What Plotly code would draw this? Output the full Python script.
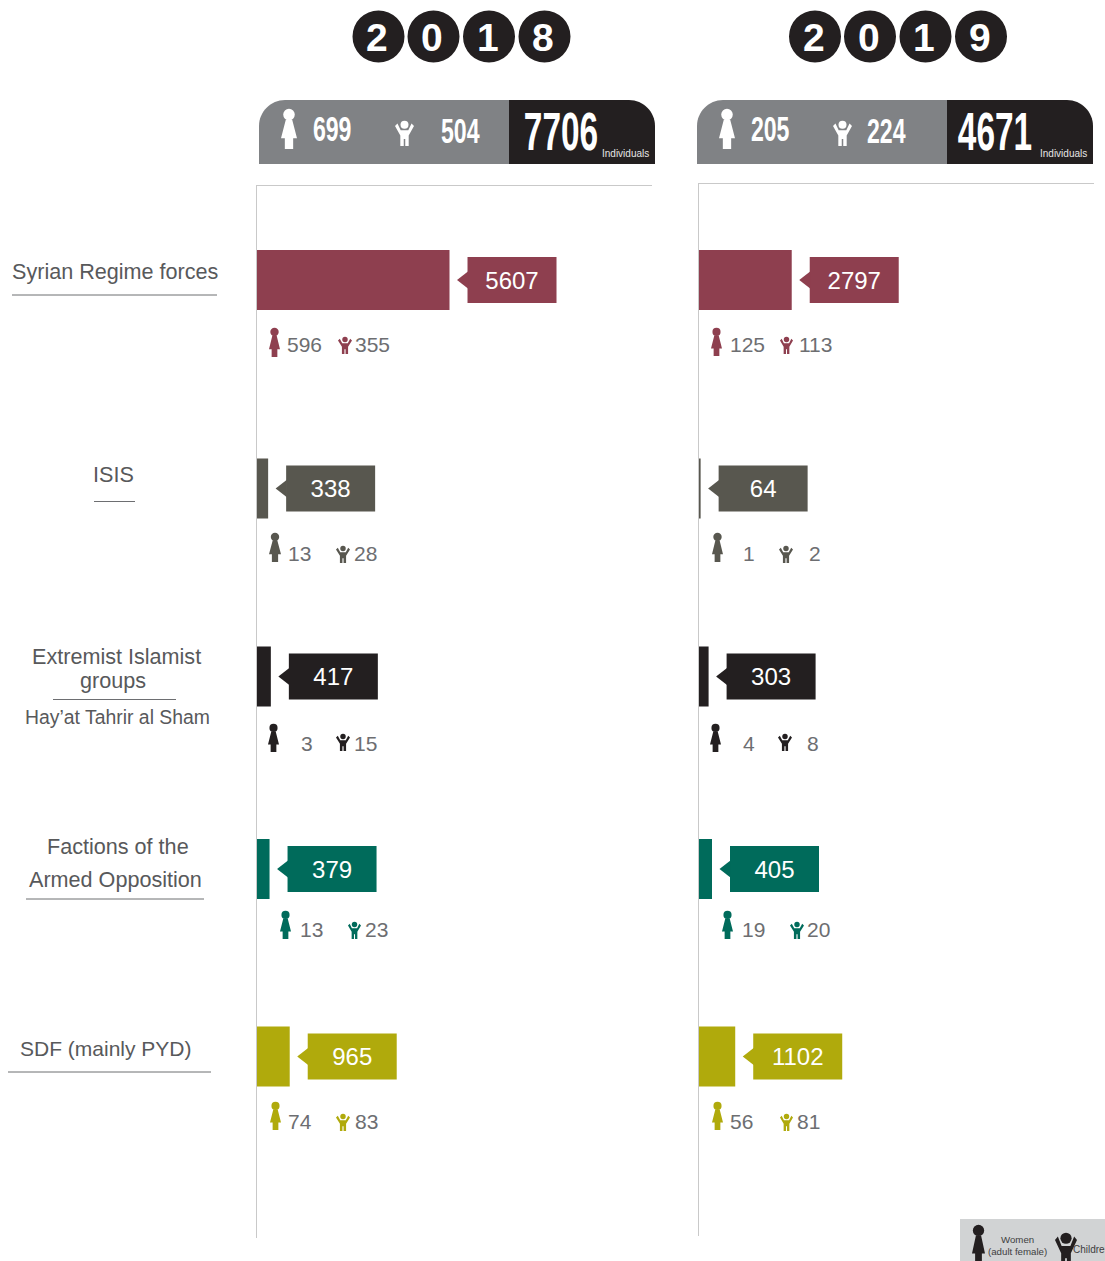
import plotly.graph_objects as go

# ---------- data ----------
years = ["2018", "2019"]
groups = ["Syrian Regime forces", "ISIS", "Extremist Islamist groups", "Factions of the Armed Opposition", "SDF (mainly PYD)"]
deaths_2018 = [5607, 338, 417, 379, 965]
deaths_2019 = [2797, 64, 303, 405, 1102]
women_2018 = [596, 13, 3, 13, 74]
women_2019 = [125, 1, 4, 19, 56]
children_2018 = [355, 28, 15, 23, 83]
children_2019 = [113, 2, 8, 20, 81]
total_2018 = 7706
total_2019 = 4671
total_women_2018 = 699
total_women_2019 = 205
total_children_2018 = 504
total_children_2019 = 224

# ---------- styling / layout constants (pixels) ----------
W, H = 1105, 1261
colors = ["#8e3f4f", "#58574f", "#231f20", "#006b5b", "#b0aa0c"]
GREY = "#6d6e71"
LBL = "#58595b"
BLACK = "#231f20"
HDR = "#808285"
FONT = "Liberation Sans, Arial, sans-serif"
ROW_Y = [280, 488.5, 676.5, 869, 1056.5]
L_X0, L_X1, L_Y0, L_Y1 = 256.5, 652, 186, 1238
R_X0, R_X1, R_Y0, R_Y1 = 698.5, 1094, 184, 1236
L_SCALE, R_SCALE = 29.05, 30.0   # axis units per pixel
GAP_PX, CALL_W_PX = 18, 89

shapes, ann = [], []
def fx(x): return x / W
def fy(y): return 1 - y / H

def text(x, y, s, size, color=GREY, anchor="left", font=FONT):
    ann.append(dict(x=fx(x), y=fy(y), xref="paper", yref="paper", text=s, showarrow=False,
                    xanchor=anchor, yanchor="middle", align="center",
                    font=dict(size=size, color=color, family=font), borderpad=0, borderwidth=0))

def rect(x0, y0, x1, y1, color):
    shapes.append(dict(type="rect", xref="paper", yref="paper", x0=fx(x0), x1=fx(x1),
                       y0=fy(y0), y1=fy(y1), fillcolor=color, line=dict(width=0), layer="below"))

def line(x0, y, x1, color="#6d6e71", w=1):
    shapes.append(dict(type="line", xref="paper", yref="paper", x0=fx(x0), x1=fx(x1),
                       y0=fy(y), y1=fy(y), line=dict(color=color, width=w)))

def poly(points, color):
    d = "M" + "L".join(f"{fx(x):.5f},{fy(y):.5f}" for x, y in points) + "Z"
    shapes.append(dict(type="path", xref="paper", yref="paper", path=d, fillcolor=color, line=dict(width=0)))

def circle(cx, cy, r, color):
    shapes.append(dict(type="circle", xref="paper", yref="paper", x0=fx(cx - r), x1=fx(cx + r),
                       y0=fy(cy - r), y1=fy(cy + r), fillcolor=color, line=dict(width=0)))

WOMAN = [(.30, .27), (.70, .27), (1, .73), (.76, .73), (.76, 1), (.24, 1), (.24, .73), (0, .73)]
CHILD = [(.30, .37), (.70, .37), (.87, .10), (1, .20), (.72, .58), (.72, 1), (.54, 1), (.54, .72),
         (.46, .72), (.46, 1), (.28, 1), (.28, .58), (0, .20), (.13, .10)]

def icon(shape, x0, y0, x1, y1, color, head, hy):
    w, h = x1 - x0, y1 - y0
    poly([(x0 + a * w, y0 + b * h) for a, b in shape], color)
    circle(x0 + w / 2, y0 + hy * h, head * h, color)

def woman(x0, y0, x1, y1, color): icon(WOMAN, x0, y0, x1, y1, color, .145, .14)
def child(x0, y0, x1, y1, color): icon(CHILD, x0, y0, x1, y1, color, .16, .15)

# year badges
for yr, xs in zip(years, ([378.5, 433.5, 489, 544.5], [815, 870, 925.5, 981])):
    for d, cx in zip(yr, xs):
        circle(cx, 36.5, 26, BLACK)
        text(cx - 1.5, 37, f"<b>{d}</b>", 39, "white", "center")

# header strips
def header(x0, xm, x1):
    r, t, b = 26, 100, 164
    k = 0.55 * r
    d = (f"M{fx(x0)},{fy(b)}L{fx(x0)},{fy(t + r)}C{fx(x0)},{fy(t + r - k)} {fx(x0 + r - k)},{fy(t)} {fx(x0 + r)},{fy(t)}"
         f"L{fx(xm)},{fy(t)}L{fx(xm)},{fy(b)}Z")
    shapes.append(dict(type="path", xref="paper", yref="paper", path=d, fillcolor=HDR, line=dict(width=0), layer="below"))
    d = (f"M{fx(xm)},{fy(b)}L{fx(xm)},{fy(t)}L{fx(x1 - r)},{fy(t)}C{fx(x1 - r + k)},{fy(t)} {fx(x1)},{fy(t + r - k)} {fx(x1)},{fy(t + r)}"
         f"L{fx(x1)},{fy(b)}Z")
    shapes.append(dict(type="path", xref="paper", yref="paper", path=d, fillcolor=BLACK, line=dict(width=0), layer="below"))

header(259, 509, 655)
header(697, 947, 1093)
woman(281, 109, 297, 149, "white")
child(395, 121, 414, 146, "white")
woman(719, 109, 735, 149, "white")
child(833, 121, 852, 146, "white")
text(332, 129, f"<b>{total_women_2018}</b>", 35, "white", "center")
text(460, 131, f"<b>{total_children_2018}</b>", 35, "white", "center")
text(561, 132, f"<b>{total_2018}</b>", 53, "white", "center")
text(770, 129, f"<b>{total_women_2019}</b>", 35, "white", "center")
text(886, 131, f"<b>{total_children_2019}</b>", 35, "white", "center")
text(995, 132, f"<b>{total_2019}</b>", 53, "white", "center")
text(602, 153, "Individuals", 10, "#e6e6e6")
text(1040, 153, "Individuals", 10, "#e6e6e6")

# row labels on the left
text(115, 271.5, "Syrian Regime forces", 21.6, LBL, "center"); line(12, 295, 217)
text(113, 474.5, "ISIS", 21.6, LBL, "center"); line(94, 501.5, 135)
text(116, 656, "Extremist Islamist", 21.6, LBL, "center")
text(113, 680, "groups", 21.6, LBL, "center"); line(53, 699.5, 176)
text(117, 717, "Hay\u2019at Tahrir al Sham", 19.4, LBL, "center")
text(118, 847, "Factions of the", 21.6, LBL, "center")
text(115, 879, "Armed Opposition", 21.6, LBL, "center"); line(26, 899, 204)
text(106, 1048.5, "SDF (mainly PYD)", 21, LBL, "center"); line(8, 1072, 211)

# women / children icons and counts
left_layout = [
    (269, 328, 280, 357, 287, 344.5, 338, 337, 352, 354, 355),
    (269, 533, 281, 562, 288, 553.5, 336, 546, 350, 563, 354),
    (268, 724, 279, 752, 301, 743.5, 336, 734, 350, 751, 354),
    (280, 911, 291, 939, 300, 929.5, 348, 922, 361, 939, 365),
    (270, 1102, 281, 1130, 288, 1121.5, 336, 1114, 350, 1131, 355),
]
right_layout = [
    (711, 328, 722, 356, 730, 344.5, 780, 337, 793, 354, 799),
    (712, 533, 723, 562, 743, 553.5, 779, 546, 793, 563, 809),
    (710, 724, 721, 752, 743, 743.5, 778, 734, 792, 751, 807),
    (722, 911, 733, 939, 742, 929.5, 790, 922, 804, 939, 807),
    (712, 1102, 723, 1130, 730, 1121.5, 780, 1114, 793, 1131, 797),
]
for lay, wv, cv in ((left_layout, women_2018, children_2018), (right_layout, women_2019, children_2019)):
    for (wx0, wy0, wx1, wy1, wtx, ty, cx0, cy0, cx1, cy1, ctx), col, a, b in zip(lay, colors, wv, cv):
        woman(wx0, wy0, wx1, wy1, col)
        child(cx0, cy0, cx1, cy1, col)
        text(wtx, ty, str(a), 21)
        text(ctx, ty, str(b), 21)

# legend box
rect(960, 1219, 1105, 1261, "#d1d3d4")
woman(972, 1225, 985, 1264, BLACK)
child(1055, 1233, 1077, 1268, BLACK)
text(1018, 1239.5, "Women", 9.7, "#404040", "center")
text(1018, 1251, "(adult female)", 9.7, "#404040", "center")
text(1073, 1249, "Children", 10, "#404040")

# ---------- traces ----------
fig = go.Figure()
def panel(vals, scale, xa, ya):
    gap, cw = GAP_PX * scale, CALL_W_PX * scale
    fig.add_trace(go.Bar(x=vals, y=ROW_Y, orientation="h", width=60, marker=dict(color=colors, line=dict(width=0)),
                         xaxis=xa, yaxis=ya, hovertext=groups, hoverinfo="text+x"))
    fig.add_trace(go.Bar(x=[cw] * 5, base=[v + gap for v in vals], y=ROW_Y, orientation="h", width=46,
                         marker=dict(color=colors, line=dict(width=0)), text=[str(v) for v in vals],
                         textposition="inside", insidetextanchor="middle", textangle=0,
                         insidetextfont=dict(color="white", size=24, family=FONT),
                         xaxis=xa, yaxis=ya, hoverinfo="skip"))
    fig.add_trace(go.Scatter(x=[v + gap - 3 * scale for v in vals], y=ROW_Y, mode="markers",
                             marker=dict(symbol="triangle-left", size=15, color=colors, line=dict(width=0)),
                             xaxis=xa, yaxis=ya, hoverinfo="skip"))

panel(deaths_2018, L_SCALE, "x", "y")
panel(deaths_2019, R_SCALE, "x2", "y2")

ax = dict(showgrid=False, zeroline=False, showticklabels=False, ticks="", showline=True,
          linecolor="#c9c9c9", linewidth=1, fixedrange=True)
fig.update_layout(
    width=W, height=H, autosize=False, margin=dict(l=0, r=0, t=0, b=0),
    paper_bgcolor="white", plot_bgcolor="white", showlegend=False, barmode="overlay",
    shapes=shapes, annotations=ann, font=dict(family=FONT),
    xaxis=dict(ax, domain=[L_X0 / W, L_X1 / W], range=[0, (L_X1 - L_X0) * L_SCALE], side="top", anchor="y"),
    yaxis=dict(ax, domain=[1 - L_Y1 / H, 1 - L_Y0 / H], range=[L_Y1, L_Y0], anchor="x"),
    xaxis2=dict(ax, domain=[R_X0 / W, R_X1 / W], range=[0, (R_X1 - R_X0) * R_SCALE], side="top", anchor="y2"),
    yaxis2=dict(ax, domain=[1 - R_Y1 / H, 1 - R_Y0 / H], range=[R_Y1, R_Y0], anchor="x2"),
)

# The header figures use a condensed typeface in the reference; none is installed,
# so the real text is narrowed horizontally after drawing.
condensed = {str(v): (0.66 if v < 1000 else 0.63) for v in
             (total_women_2018, total_children_2018, total_2018, total_women_2019, total_children_2019, total_2019)}
pairs = ",".join(f"'<b>{k}</b>':{v}" for k, v in condensed.items())
post = ("document.body.style.margin='0';"
        "var m={" + pairs + "};"
        "document.querySelectorAll('text.annotation-text').forEach(function(t){"
        "var s=m[t.getAttribute('data-unformatted')];"
        "if(s){t.style.transformBox='fill-box';t.style.transformOrigin='center';t.style.transform='scaleX('+s+')';}});")
fig.write_html("out.html", config={"displayModeBar": False}, post_script=post)
